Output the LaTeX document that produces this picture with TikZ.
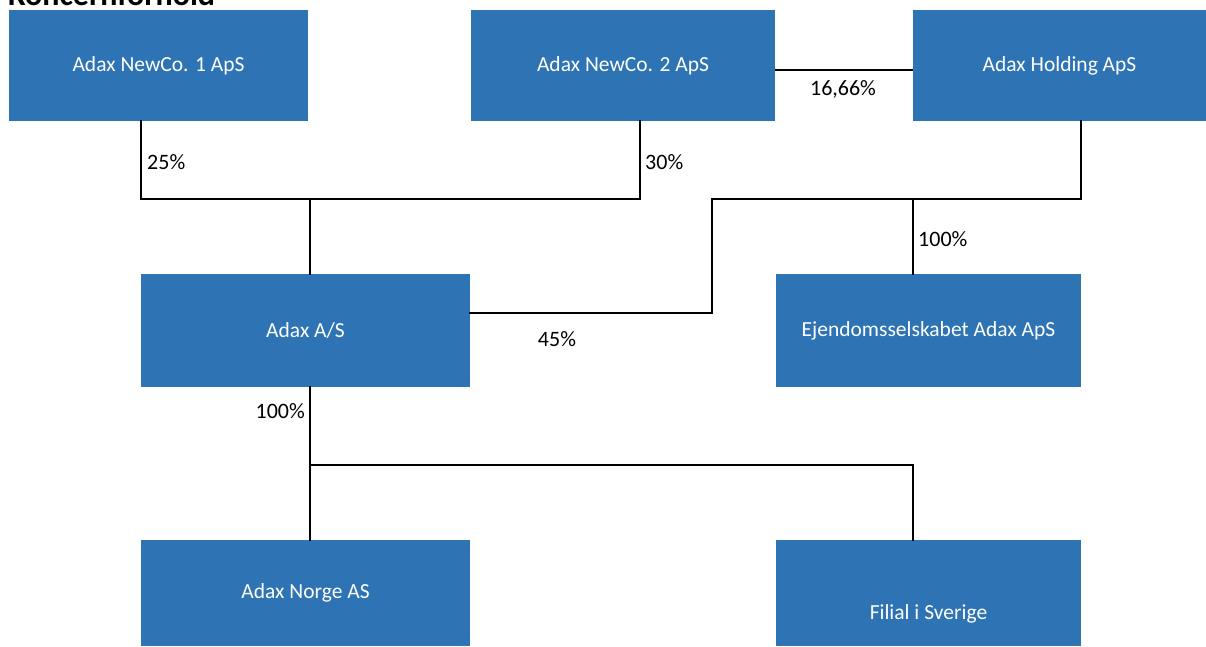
\documentclass[tikz,border=0pt]{standalone}
\usepackage{fontspec}
\setmainfont{Carlito}
\definecolor{boxblue}{RGB}{46,116,181}
\begin{document}
\begin{tikzpicture}[x=1pt,y=-1pt,
  ent/.style={fill=boxblue,draw=none,inner sep=0pt,text=white,font=\fontsize{21.5}{25}\selectfont},
  pct/.style={inner sep=0pt,font=\fontsize{22}{25}\selectfont,text=black},
  link/.style={line width=2.8pt,line cap=rect}]
\useasboundingbox (0,0) rectangle (1206,646);
\node[anchor=base west,inner sep=0pt,font=\bfseries\fontsize{32}{36}\selectfont] (title) at (8,5) {Koncernforhold};
% boxes
\node[ent,minimum width=299pt,minimum height=111pt] (n1) at (158.5,65.5) {Adax NewCo. 1 ApS};
\node[ent,minimum width=304pt,minimum height=111pt] (n2) at (623,65.5) {Adax NewCo. 2 ApS};
\node[ent,minimum width=293pt,minimum height=111pt] (hold) at (1059.5,65.5) {Adax Holding ApS};
\node[ent,minimum width=329pt,minimum height=113pt] (as) at (305.5,330.5) {Adax A/S};
\node[ent,minimum width=305pt,minimum height=113pt] (ejd) at (928.5,330.5) {Ejendomsselskabet Adax ApS};
\node[ent,minimum width=329pt,minimum height=106pt] (nor) at (305.5,593) {Adax Norge AS};
\node[ent,minimum width=305pt,minimum height=106pt] (fil) at (928.5,593) {};
\node[ent,anchor=base] (filt) at (928.5,619) {Filial i Sverige};
% junction coordinates
\coordinate (j1) at (141,199);
\coordinate (j2) at (640,199);
\coordinate (j3) at (310,199);
\coordinate (h1) at (1081,199);
\coordinate (h2) at (712,199);
\coordinate (h3) at (712,313);
\coordinate (h4) at (913,199);
\coordinate (b1) at (310,465);
\coordinate (b2) at (913,465);
% connectors
\draw[link] (n1.south west -| j1) -- (j1) -- (j2) -- (n2.south -| j2);
\draw[link] (j3) -- (as.north -| j3);
\draw[line width=1.8pt] (n2.east |- 0,70) -- (hold.west |- 0,70);
\draw[link] (hold.south -| h1) -- (h1) -- (h2) -- (h3) -- (as.east |- h3);
\draw[link] (h4) -- (ejd.north -| h4);
\draw[link] (as.south -| b1) -- (nor.north -| b1);
\draw[link] (b1) -- (b2) -- (fil.north -| b2);
% labels
\node[pct,anchor=base west] (l25) at (147,169) {25\%};
\node[pct,anchor=base west] (l30) at (645,169) {30\%};
\node[pct,anchor=base] (l16) at (843,95) {16,66\%};
\node[pct,anchor=base west] (l100a) at (918,246) {100\%};
\node[pct,anchor=base] (l45) at (557,346) {45\%};
\node[pct,anchor=base east] (l100b) at (305,418) {100\%};
\end{tikzpicture}
\end{document}
